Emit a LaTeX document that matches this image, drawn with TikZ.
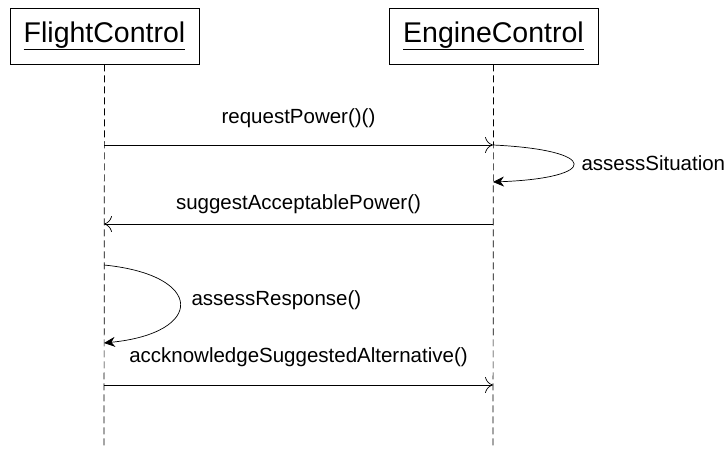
\documentclass[tikz,border=0pt]{standalone}
\usepackage{fontspec}
\setmainfont{Liberation Sans}
\usetikzlibrary{arrows.meta}

\begin{document}
\begin{tikzpicture}[x=1pt, y=-1pt, font=\fontsize{20.5}{22}\selectfont,
		obj/.style={draw, line width=0.7pt, minimum height=56pt, inner sep=0pt, font=\fontsize{28.5}{30}\selectfont},
		life/.style={line width=0.7pt, dash pattern=on 7pt off 4pt},
		msg/.style={line width=0.7pt, -{To[length=8pt, width=16pt]}},
		self/.style={line width=0.7pt, -{Stealth[length=11pt, width=10pt]}}]
		\useasboundingbox (0,0) rectangle (726,449);
		% objects and their lifelines
		\node[obj, minimum width=189pt] (fc) at (104.5,36) {\underline{FlightControl}};
		\node[obj, minimum width=209pt] (ec) at (493.5,36) {\underline{EngineControl}};
		\coordinate (fcEnd) at (104,449);
		\coordinate (ecEnd) at (493,449);
		\draw[life] (fc.south) -- (fcEnd);
		\draw[life] (ec.south) -- (ecEnd);
		% message anchors on the lifelines
		\coordinate (fc1) at (104,145);
		\coordinate (ec1) at (493,145);
		\coordinate (ec2) at (493,182);
		\coordinate (ec3) at (493,224);
		\coordinate (fc3) at (104,224);
		\coordinate (fc4) at (104,265);
		\coordinate (fc5) at (104,343);
		\coordinate (fc6) at (104,385);
		\coordinate (ec6) at (493,385);
		% requestPower
		\draw[msg] (fc1) -- (ec1) node[midway, above=14pt] (m1) {requestPower()()};
		% self call on EngineControl
		\draw[self] (ec1) .. controls (600,150) and (600,178) .. (ec2);
		\node[anchor=west] (m2) at (578,163) {assessSituation};
		% reply
		\draw[msg] (ec3) -- (fc3) node[midway, above=7pt] (m3) {suggestAcceptablePower()};
		% self call on FlightControl
		\draw[self] (fc4) .. controls (205,275) and (205,333) .. (fc5);
		\node[anchor=west] (m4) at (188,300) {assessResponse()};
		% acknowledge
		\draw[msg] (fc6) -- (ec6) node[midway, above=15pt] (m5) {accknowledgeSuggestedAlternative()};
	\end{tikzpicture}
\end{document}
